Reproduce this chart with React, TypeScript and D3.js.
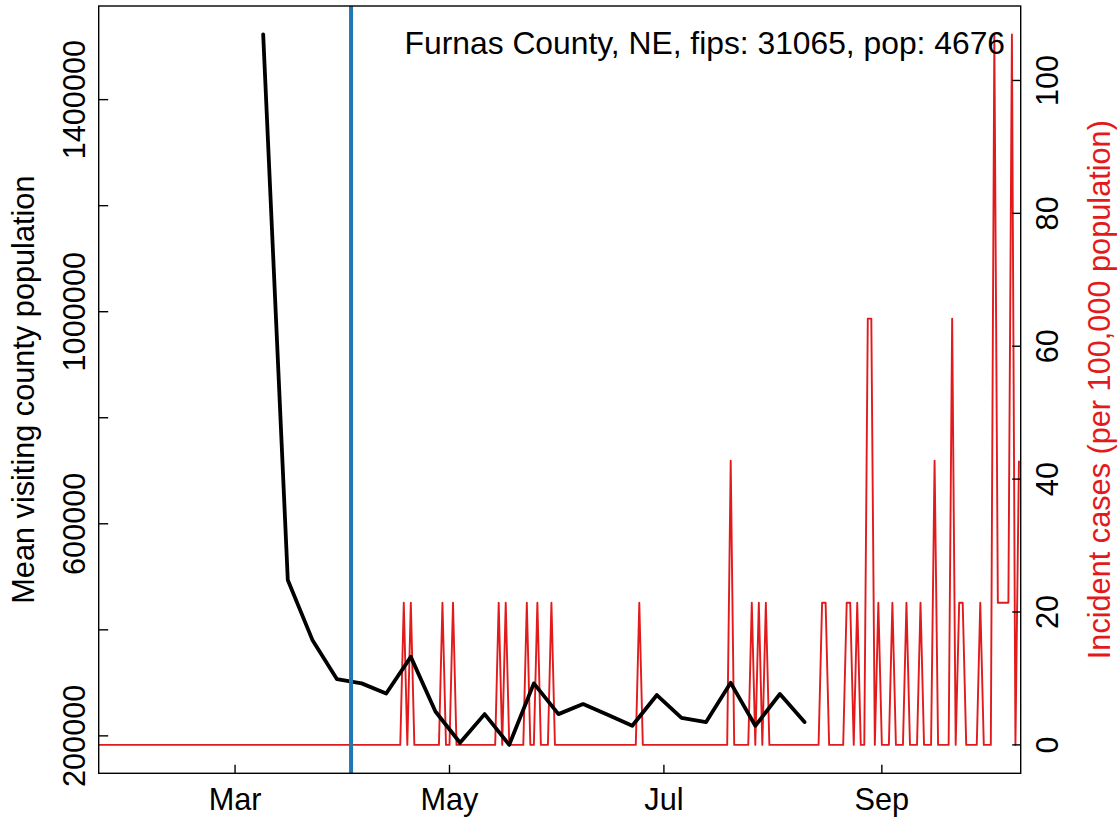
import React from "react";
import * as d3 from "d3";

// ---- data ----
const countyLabel = "Furnas County, NE, fips: 31065, pop: 4676";
const population = 4676;

// weekly mean visiting county population (black line)
const visitDates = [
  "2020-03-09", "2020-03-16", "2020-03-23", "2020-03-30", "2020-04-06", "2020-04-13",
  "2020-04-20", "2020-04-27", "2020-05-04", "2020-05-11", "2020-05-18", "2020-05-25",
  "2020-06-01", "2020-06-08", "2020-06-15", "2020-06-22", "2020-06-29", "2020-07-06",
  "2020-07-13", "2020-07-20", "2020-07-27", "2020-08-03", "2020-08-10",
];
const visitValues = [
  1523000, 494000, 381000, 307000, 299000, 280000,
  349000, 246000, 187000, 241000, 183000, 299000,
  241000, 260000, 240000, 219000, 277000, 234000,
  226000, 300000, 219000, 279000, 226000,
];

// daily incident cases (red line); days not listed had 0 cases
const caseSeriesStart = "2020-01-22";
const caseSeriesEnd = "2020-10-10";
const caseDates = [
  "2020-04-18", "2020-04-20", "2020-04-29", "2020-05-02", "2020-05-15", "2020-05-17",
  "2020-05-23", "2020-05-26", "2020-05-30", "2020-06-24", "2020-07-20", "2020-07-26",
  "2020-07-28", "2020-07-30", "2020-08-15", "2020-08-16", "2020-08-22", "2020-08-23",
  "2020-08-25", "2020-08-28", "2020-08-29", "2020-08-31", "2020-09-04", "2020-09-08",
  "2020-09-12", "2020-09-16", "2020-09-21", "2020-09-23", "2020-09-24", "2020-09-29",
  "2020-10-03", "2020-10-04", "2020-10-05", "2020-10-06", "2020-10-07", "2020-10-08",
  "2020-10-10",
];
const caseCounts = [
  1, 1, 1, 1, 1, 1,
  1, 1, 1, 1, 2, 1,
  1, 1, 1, 1, 1, 1,
  1, 3, 3, 1, 1, 1,
  1, 2, 3, 1, 1, 1,
  5, 1, 1, 1, 1, 5,
  2,
];

const interventionDate = "2020-04-03";

const leftTicks = [200000, 400000, 600000, 800000, 1000000, 1200000, 1400000];
const leftTickLabels = ["200000", "", "600000", "", "1000000", "", "1400000"];
const rightTicks = [0, 20, 40, 60, 80, 100];
const monthTickDates = ["2020-03-01", "2020-05-01", "2020-07-01", "2020-09-01"];
const monthTickLabels = ["Mar", "May", "Jul", "Sep"];

const leftTitle = "Mean visiting county population";
const rightTitle = "Incident cases (per 100,000 population)";

// ---- layout ----
const W = 1119;
const H = 822;
const plotL = 98.7;
const plotR = 1020.7;
const plotT = 6;
const plotB = 773.3;
const RED = "#E31A1C";
const BLUE = "#1F78B4";
const FONT = "'Liberation Sans', Arial, Helvetica, sans-serif";
const FS = 30.7;
const TICK = 8.5;

const parse = d3.timeParse("%Y-%m-%d");

function rExpand([a, b]: [number, number]): [number, number] {
  const d = (b - a) * 0.04;
  return [a - d, b + d];
}

export default function App() {
  const xDomain: [Date, Date] = [
    d3.timeHour.offset(parse("2020-01-22")!, 5),
    d3.timeHour.offset(parse("2020-10-10")!, 12),
  ];
  const x = d3.scaleTime().domain(xDomain).range([plotL, plotR]);

  const yLeft = d3
    .scaleLinear()
    .domain(rExpand(d3.extent(visitValues) as [number, number]))
    .range([plotB, plotT]);

  // daily case series
  const caseMap = new Map<string, number>();
  caseDates.forEach((d, i) => caseMap.set(d, caseCounts[i]));
  const fmt = d3.timeFormat("%Y-%m-%d");
  const days = d3.timeDay.range(parse(caseSeriesStart)!, d3.timeDay.offset(parse(caseSeriesEnd)!, 1));
  const daily = days.map((d) => ({
    date: d,
    value: ((caseMap.get(fmt(d)) ?? 0) / population) * 100000,
  }));
  const yRight = d3
    .scaleLinear()
    .domain(rExpand(d3.extent(daily, (d) => d.value) as [number, number]))
    .range([plotB, plotT]);

  const redPath =
    d3
      .line<{ date: Date; value: number }>()
      .x((d) => x(d.date))
      .y((d) => yRight(d.value))(daily) ?? "";

  const visit = visitDates.map((d, i) => ({ date: parse(d)!, value: visitValues[i] }));
  const blackPath =
    d3
      .line<{ date: Date; value: number }>()
      .x((d) => x(d.date))
      .y((d) => yLeft(d.value))(visit) ?? "";

  const xi = x(parse(interventionDate)!);

  return (
    <svg
      width={W}
      height={H}
      style={{ position: "absolute", left: 0, top: 0, background: "#fff" }}
      fontFamily={FONT}
    >
      <defs>
        <clipPath id="plotClip">
          <rect x={plotL} y={plotT} width={plotR - plotL} height={plotB - plotT} />
        </clipPath>
      </defs>
      <rect x={0} y={0} width={W} height={H} fill="#fff" />

      <g clipPath="url(#plotClip)">
        <path d={redPath} fill="none" stroke={RED} strokeWidth={1.9} strokeLinejoin="round" />
        <path d={blackPath} fill="none" stroke="#000" strokeWidth={3.8} strokeLinejoin="round" strokeLinecap="round" />
        <line x1={xi} x2={xi} y1={plotT} y2={plotB} stroke={BLUE} strokeWidth={4} />
      </g>

      {/* box */}
      <rect x={plotL} y={plotT} width={plotR - plotL} height={plotB - plotT} fill="none" stroke="#000" strokeWidth={1.4} />

      {/* left axis */}
      {leftTicks.map((t, i) => (
        <g key={"l" + t}>
          <line x1={plotL} x2={plotL + TICK + 1} y1={yLeft(t)} y2={yLeft(t)} stroke="#000" strokeWidth={1.4} />
          {leftTickLabels[i] && (
            <text
              transform={`translate(85,${yLeft(t)}) rotate(-90)`}
              textAnchor="middle"
              fontSize={FS}
              fill="#000"
            >
              {leftTickLabels[i]}
            </text>
          )}
        </g>
      ))}
      <text
        transform={`translate(34,${(plotT + plotB) / 2}) rotate(-90)`}
        textAnchor="middle"
        fontSize={FS}
        fill="#000"
      >
        {leftTitle}
      </text>

      {/* right axis */}
      {rightTicks.map((t) => (
        <g key={"r" + t}>
          <line x1={plotR - TICK} x2={plotR} y1={yRight(t)} y2={yRight(t)} stroke="#000" strokeWidth={1.4} />
          <text
            transform={`translate(1058,${yRight(t)}) rotate(-90)`}
            textAnchor="middle"
            fontSize={FS}
            fill="#000"
          >
            {t}
          </text>
        </g>
      ))}
      <text
        transform={`translate(1110,${(plotT + plotB) / 2}) rotate(-90)`}
        textAnchor="middle"
        fontSize={FS}
        fill={RED}
      >
        {rightTitle}
      </text>

      {/* bottom axis */}
      {monthTickDates.map((d, i) => {
        const px = x(parse(d)!);
        return (
          <g key={d}>
            <line x1={px} x2={px} y1={plotB - TICK} y2={plotB} stroke="#000" strokeWidth={1.4} />
            <text x={px} y={810} textAnchor="middle" fontSize={FS} fill="#000">
              {monthTickLabels[i]}
            </text>
          </g>
        );
      })}

      {/* label */}
      <text x={1005} y={54} textAnchor="end" fontSize={31.8} fill="#000">
        {countyLabel}
      </text>
    </svg>
  );
}
